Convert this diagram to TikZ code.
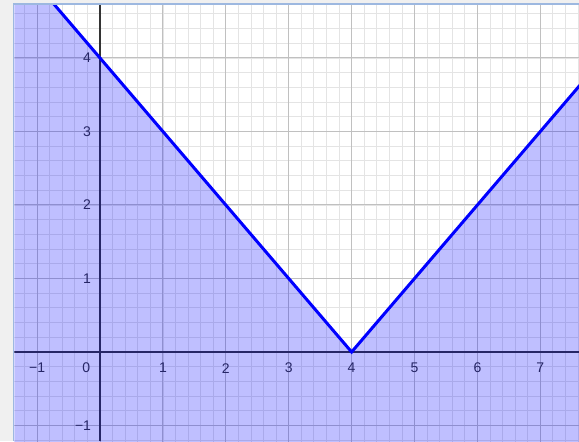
\documentclass[tikz,border=0pt]{standalone}
\usepackage{fontspec}
\setmainfont{Liberation Sans}
\definecolor{pagegray}{HTML}{F0F0F0}
\definecolor{framecol}{HTML}{9DB8E0}
\definecolor{minorcol}{HTML}{E4E4E4}
\definecolor{majorcol}{HTML}{C0C0C0}
\definecolor{axiscol}{HTML}{333333}
\definecolor{labelcol}{HTML}{333333}
\tikzset{
  minorgrid/.style={draw=minorcol, line width=0.8pt},
  majorgrid/.style={draw=majorcol, line width=1pt},
  axisline/.style={draw=axiscol, line width=1.4pt},
  ticklabel/.style={text=labelcol, font=\fontsize{14}{16}\selectfont, inner sep=0pt},
  region/.style={fill=blue, fill opacity=0.25},
  graphline/.style={draw=blue, line width=3pt, line join=miter}
}
\begin{document}
\begin{tikzpicture}[x=62.9pt, y=73.5pt]
  \useasboundingbox[fill=pagegray] (-1.59,-1.211) rectangle (7.615,4.789);
  \fill[white] (-1.36,-1.211) rectangle (7.615,4.72);
  \begin{scope}
    \clip (-1.36,-1.211) rectangle (7.615,4.72);
    \draw[minorgrid, step=0.2] (-2,-2) grid (8,5);
    \draw[majorgrid, step=1] (-2,-2) grid (8,5);
    \draw[axisline] (-1.36,0) -- (7.615,0) (0,-1.211) -- (0,4.72);
    % tick labels
    \foreach \k in {1,...,7}
      \node[ticklabel] (xl\k) at (\k,-0.22) {\k};
    \node[ticklabel] (xlm1) at (-1,-0.22) {−1};
    \node[ticklabel] (xl0) at (-0.22,-0.22) {0};
    \foreach \k in {1,...,4}
      \node[ticklabel, anchor=east] (yl\k) at (-0.14,\k) {\k};
    \node[ticklabel, anchor=east] (ylm1) at (-0.14,-1) {−1};
    % y <= |x-4|
    \fill[region] (-1.5,-1.5) -- (-1.5,5.5) -- (4,0) -- (8,4) -- (8,-1.5) -- cycle;
    \draw[graphline] (-1.5,5.5) -- (4,0) -- (8,4);
  \end{scope}
  \draw[framecol, line width=1.2pt] (-1.375,-1.211) |- (7.615,4.735);
\end{tikzpicture}
\end{document}
